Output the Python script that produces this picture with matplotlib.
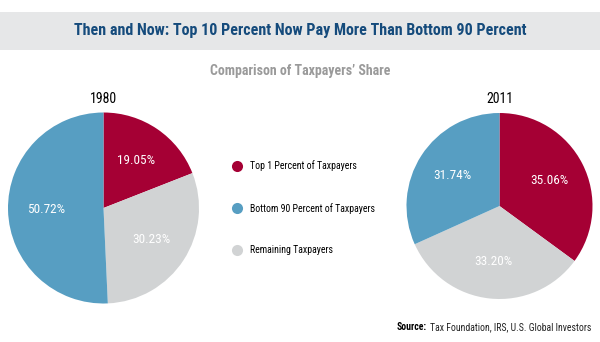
import matplotlib.pyplot as plt
from matplotlib.lines import Line2D
from matplotlib.patches import Rectangle

# 데이터
categories = ['Top 1 Percent of Taxpayers', 'Remaining Taxpayers', 'Bottom 90 Percent of Taxpayers']
share_1980 = [19.05, 30.23, 50.72]
share_2011 = [35.06, 33.20, 31.74]
years = ['1980', '2011']
legend_order = ['Top 1 Percent of Taxpayers', 'Bottom 90 Percent of Taxpayers', 'Remaining Taxpayers']

colors = {'Top 1 Percent of Taxpayers': '#A50034',
          'Remaining Taxpayers': '#D1D3D4',
          'Bottom 90 Percent of Taxpayers': '#579EC2'}

plt.rcParams['font.family'] = ['Roboto Condensed', 'Liberation Sans', 'DejaVu Sans']

W, H = 600, 342
fig = plt.figure(figsize=(6, 3.42), dpi=100)

def px_axes(cx, cy, r):
    # 픽셀 좌표(위쪽 기준)로 정사각형 axes 생성
    return fig.add_axes([(cx - r) / W, 1 - (cy + r) / H, 2 * r / W, 2 * r / H])

# 제목 배경
fig.patches.append(Rectangle((0, 1 - 50 / H), 1, 38.5 / H, transform=fig.transFigure,
                             facecolor='#E6E7E8', edgecolor='none', zorder=0))
fig.text(0.5, 1 - 31 / H, 'Then and Now: Top 10 Percent Now Pay More Than Bottom 90 Percent',
         ha='center', va='center', fontsize=11.5, fontweight='bold', color='#154B7C')
fig.text(0.5, 1 - 71.5 / H, 'Comparison of Taxpayers\u2019 Share',
         ha='center', va='center', fontsize=10, fontweight='bold', color='#9A9A9A')

pies = [(share_1980, 103.5, 208, 95.5, 99), (share_2011, 499.5, 206, 93, 99)]
for (vals, cx, cy, r, ty), yr in zip(pies, years):
    ax = px_axes(cx, cy, r)
    wedges, texts, autotexts = ax.pie(vals, colors=[colors[c] for c in categories],
                                      startangle=90, counterclock=False,
                                      autopct='%.2f%%', pctdistance=0.6,
                                      wedgeprops=dict(linewidth=0))
    for t in autotexts:
        t.set_color('white')
        t.set_fontsize(9.5)
    ax.set_xlim(-1, 1)
    ax.set_ylim(-1, 1)
    fig.text(cx / W, 1 - ty / H, yr, ha='center', va='center', fontsize=10, color='black')

# 범례
handles = [Line2D([], [], linestyle='none', marker='o', markersize=8,
                  markerfacecolor=colors[c], markeredgecolor='none') for c in legend_order]
fig.legend(handles, legend_order, loc='center left', bbox_to_anchor=(232 / W, 1 - 208 / H),
           frameon=False, fontsize=7.1, labelspacing=3.2, handletextpad=0.8,
           handlelength=1.0, borderpad=0, borderaxespad=0)

# 출처
src = fig.text(591 / W, 1 - 327 / H, 'Tax Foundation, IRS, U.S. Global Investors',
               ha='right', va='center', fontsize=7, color='#222222')
fig.canvas.draw()
bb = src.get_window_extent()
fig.text((bb.x0 - 3) / W, 1 - 327 / H, 'Source:', ha='right', va='center', fontsize=7,
         fontweight='bold', color='black')

fig.savefig('out.png', dpi=100)
